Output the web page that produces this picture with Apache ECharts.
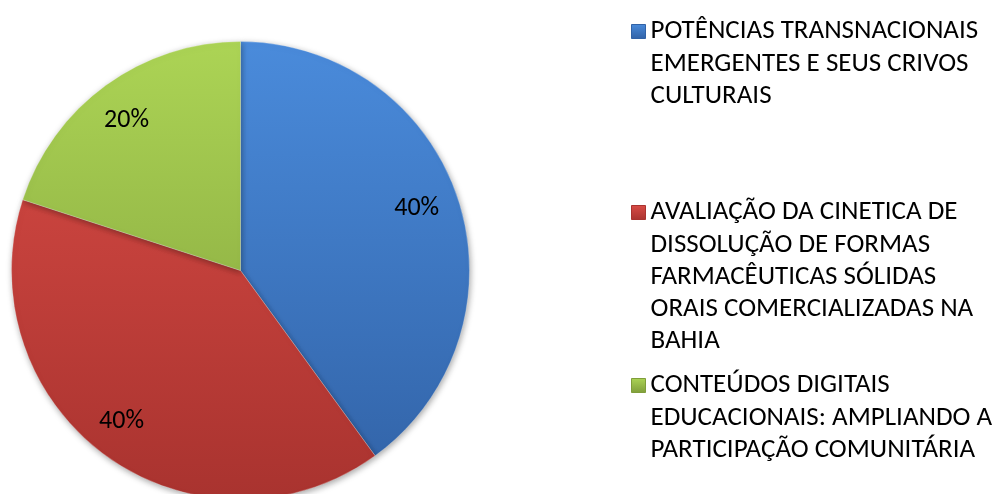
<!DOCTYPE html>
<html>
<head>
<meta charset="utf-8">
<script src="https://cdn.jsdelivr.net/npm/echarts@6/dist/echarts.min.js"></script>
<style>
html,body{margin:0;padding:0;background:#fff;}
#chart{width:992px;height:494px;}
</style>
</head>
<body>
<div id="chart"></div>
<script>
// Data
var categories = [
  'POTÊNCIAS TRANSNACIONAIS\nEMERGENTES E SEUS CRIVOS\nCULTURAIS',
  'AVALIAÇÃO DA CINETICA DE\nDISSOLUÇÃO DE FORMAS\nFARMACÊUTICAS SÓLIDAS\nORAIS COMERCIALIZADAS NA\nBAHIA',
  'CONTEÚDOS DIGITAIS\nEDUCACIONAIS: AMPLIANDO A\nPARTICIPAÇÃO COMUNITÁRIA'
];
var values = [40, 40, 20];

var topColors = ['#4a8bdb', '#da4c46', '#acd455'];
var bottomColors = ['#3162a6', '#a9332f', '#7f9d3a'];
var labelOffsets = [[-5, -3], [-7, -3], [-2, 4]];

var CX = 240.5, CY = 270.5, R = 229;
var FONT = 'Carlito, Lato, "Liberation Sans", sans-serif';
var LH = 32.3;

function sliceGrad(i) {
  return new echarts.graphic.LinearGradient(0, CY - R, 0, CY + R, [
    {offset: 0, color: topColors[i]},
    {offset: 1, color: bottomColors[i]}
  ], true);
}
function iconGrad(i) {
  return new echarts.graphic.LinearGradient(0, 0, 0, 1, [
    {offset: 0, color: topColors[i]},
    {offset: 1, color: bottomColors[i]}
  ]);
}

var iconCenters = [31.5, 212.5, 385.5];
var legends = categories.map(function (name, i) {
  var n = name.split('\n').length;
  var H = (2 * n - 1) * LH;
  var pre = new Array(n).join('\n');
  return {
    orient: 'vertical',
    left: 631,
    top: iconCenters[i] - H / 2,
    padding: 0,
    itemWidth: 14,
    itemHeight: 14,
    itemGap: 0,
    selectedMode: false,
    icon: 'rect',
    formatter: function (nm) { return pre + nm; },
    data: [{
      name: name,
      itemStyle: {color: iconGrad(i), borderColor: bottomColors[i], borderWidth: 1}
    }],
    textStyle: {fontFamily: FONT, fontSize: 27, lineHeight: LH, color: '#000'}
  };
});

var chart = echarts.init(document.getElementById('chart'), null, {renderer: 'canvas'});
chart.setOption({
  animation: false,
  backgroundColor: '#fff',
  legend: legends,
  series: [
    {
      type: 'pie',
      center: [CX, CY],
      radius: [0, R],
      startAngle: 90,
      clockwise: true,
      silent: true,
      label: {show: false},
      labelLine: {show: false},
      itemStyle: {borderColor: 'rgba(255,255,255,0.25)', borderWidth: 1,
        shadowBlur: 6, shadowColor: 'rgba(0,0,0,0.35)', shadowOffsetX: 1, shadowOffsetY: 2},
      data: categories.map(function (c, i) {
        return {name: c, value: values[i], itemStyle: {color: sliceGrad(i)}};
      })
    },
    {
      type: 'pie',
      center: [CX, CY],
      radius: [146, R],
      startAngle: 90,
      clockwise: true,
      silent: true,
      itemStyle: {color: 'rgba(0,0,0,0)'},
      label: {show: true, position: 'inside', formatter: '{c}%',
        fontFamily: FONT, fontSize: 26, color: '#000'},
      labelLine: {show: false},
      data: categories.map(function (c, i) {
        return {name: c, value: values[i], label: {offset: labelOffsets[i]}};
      })
    }
  ]
});
</script>
</body>
</html>
